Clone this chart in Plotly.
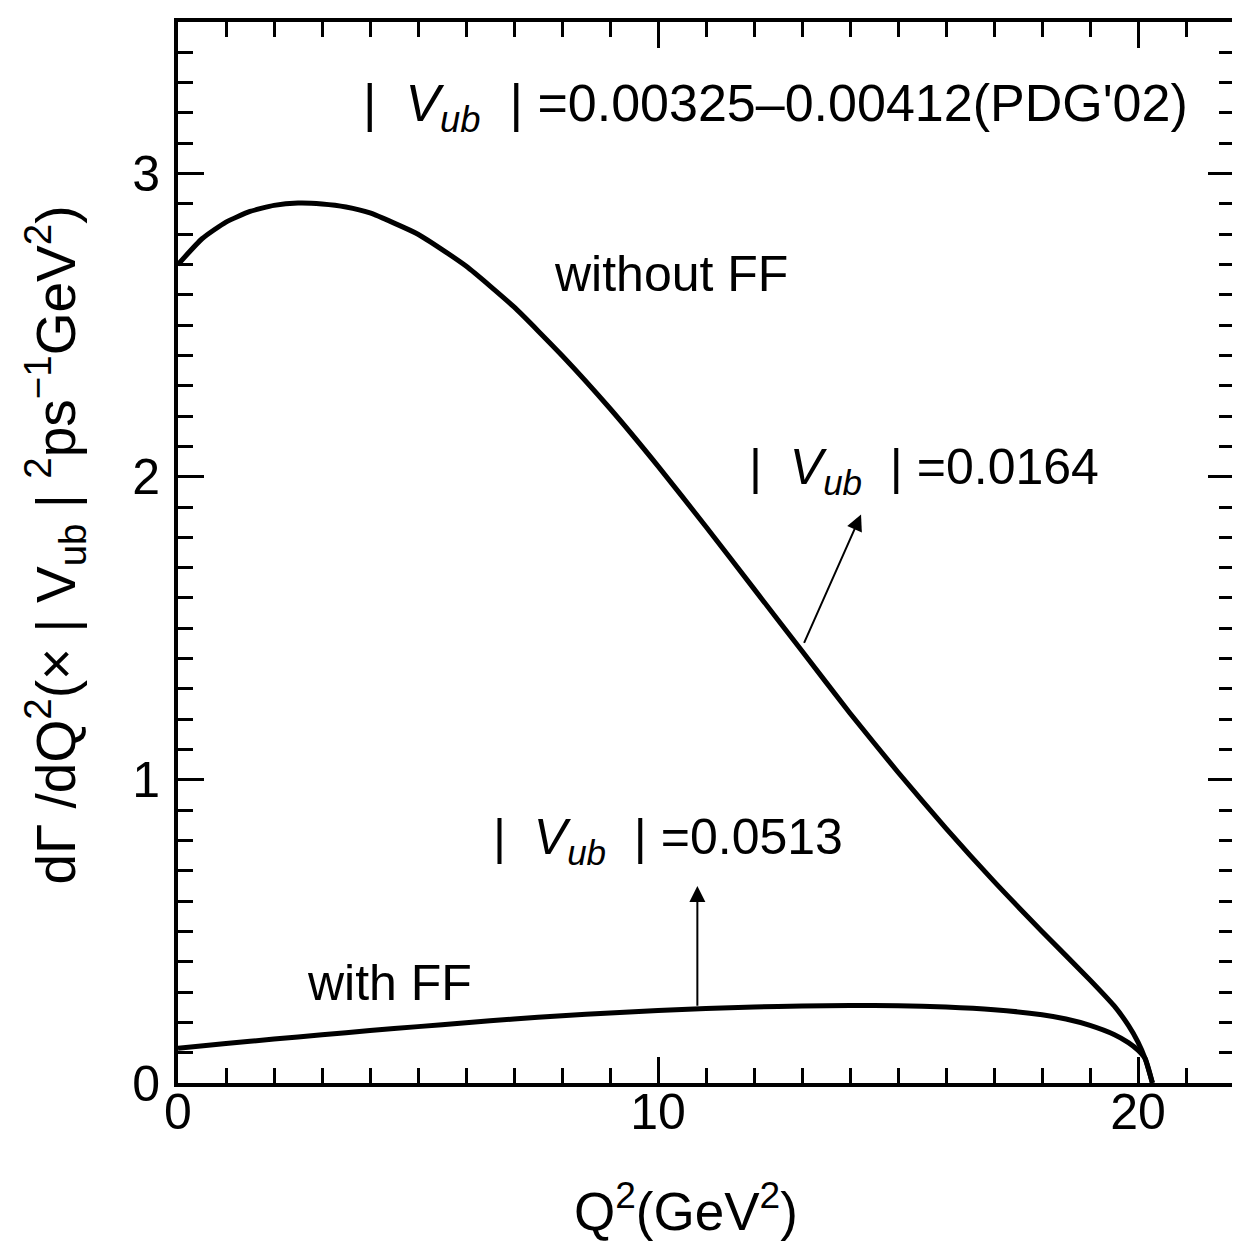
import plotly.graph_objects as go

# ---- data ----
q_without = [0.0, 0.5, 1.0, 1.5, 2.0, 2.5, 3.0, 3.5, 4.0, 5.0, 6.0, 7.0, 8.0, 9.0, 10.0,
             11.0, 12.0, 13.0, 14.0, 15.0, 16.0, 17.0, 18.0, 19.0, 19.5, 19.8, 20.0, 20.15, 20.3]
y_without = [2.70, 2.785, 2.84, 2.875, 2.895, 2.903, 2.90, 2.89, 2.87, 2.80, 2.695, 2.56, 2.40,
             2.225, 2.035, 1.835, 1.63, 1.425, 1.22, 1.025, 0.84, 0.665, 0.50, 0.34, 0.255,
             0.19, 0.135, 0.08, 0.0]

q_with = [0.0, 1.0, 2.0, 3.0, 4.0, 5.0, 6.0, 7.0, 8.0, 9.0, 10.0, 11.0, 12.0, 13.0, 14.0,
          15.0, 16.0, 17.0, 18.0, 18.5, 19.0, 19.5, 19.8, 20.0, 20.15, 20.3]
y_with = [0.115, 0.13, 0.145, 0.159, 0.173, 0.186, 0.199, 0.211, 0.222, 0.231, 0.239, 0.246,
          0.251, 0.254, 0.256, 0.255, 0.251, 0.242, 0.225, 0.211, 0.19, 0.16, 0.133, 0.108,
          0.08, 0.0]

x_ticks = [0, 10, 20]
y_ticks = [0, 1, 2, 3]
x_range = [0, 22]
y_range = [0, 3.5]

FONT = "Liberation Sans, Arial, sans-serif"

fig = go.Figure()
fig.add_trace(go.Scatter(x=q_without, y=y_without, mode="lines",
                         line=dict(color="black", width=5, shape="spline", smoothing=0.5),
                         name="without FF"))
fig.add_trace(go.Scatter(x=q_with, y=y_with, mode="lines",
                         line=dict(color="black", width=5, shape="spline", smoothing=0.5),
                         name="with FF"))

axis_common = dict(showgrid=False, zeroline=False, ticks="inside", mirror="allticks",
                   showline=True, linecolor="black", linewidth=4, tickcolor="black",
                   tickwidth=3, ticklen=26,
                   tickfont=dict(family=FONT, size=50, color="black"))

fig.update_xaxes(range=x_range, tickvals=x_ticks, ticktext=[str(v) for v in x_ticks],
                 minor=dict(dtick=1, tick0=0, ticks="inside", ticklen=15, tickwidth=3,
                            tickcolor="black"),
                 ticklabelstandoff=-18,
                 **axis_common)
fig.update_yaxes(range=y_range, tickvals=y_ticks, ticktext=[str(v) for v in y_ticks],
                 minor=dict(dtick=0.1, tick0=0, ticks="inside", ticklen=15, tickwidth=3,
                            tickcolor="black"),
                 ticklabelstandoff=4,
                 **axis_common)

tf = dict(family=FONT, size=50, color="black")
vub = "|  <i>V<sub>ub</sub></i>  |"
texts = [
    (12.45, 3.22, vub + " =0.00325\u20130.00412(PDG'02)", 52),
    (10.27, 2.67, "without FF", 50),
    (15.55, 2.02, vub + " =0.0164", 50),
    (10.2, 0.80, vub + " =0.0513", 50),
    (4.4, 0.33, "with FF", 50),
]
for x, y, t, s in texts:
    fig.add_annotation(x=x, y=y, xref="x", yref="y", text=t, showarrow=False,
                       font=dict(family=FONT, size=s, color="black"),
                       xanchor="center", yanchor="middle")

# arrows
fig.add_annotation(x=14.23, y=1.875, ax=13.03, ay=1.447, xref="x", yref="y",
                   axref="x", ayref="y", text="", showarrow=True, arrowhead=2,
                   arrowsize=1.6, arrowwidth=2, arrowcolor="black")
fig.add_annotation(x=10.82, y=0.65, ax=10.82, ay=0.25, xref="x", yref="y",
                   axref="x", ayref="y", text="", showarrow=True, arrowhead=2,
                   arrowsize=1.6, arrowwidth=2, arrowcolor="black")

# axis titles
fig.add_annotation(x=0.481, y=-0.117, xref="paper", yref="paper",
                   text="Q<sup>2</sup>(GeV<sup>2</sup>)", showarrow=False,
                   font=dict(family=FONT, size=53, color="black"),
                   xanchor="center", yanchor="middle")
fig.add_annotation(x=-0.116, y=0.507, xref="paper", yref="paper", textangle=-90,
                   text="d\u0393 /dQ<sup>2</sup>(\u00d7 | V<sub>ub</sub> | <sup>2</sup>ps<sup>\u22121</sup>GeV<sup>2</sup>)",
                   showarrow=False,
                   font=dict(family=FONT, size=55, color="black"),
                   xanchor="center", yanchor="middle")

fig.update_layout(width=1240, height=1251,
                  margin=dict(l=170, r=10, t=14, b=176),
                  plot_bgcolor="white", paper_bgcolor="white",
                  showlegend=False)

fig.write_html("out.html")
